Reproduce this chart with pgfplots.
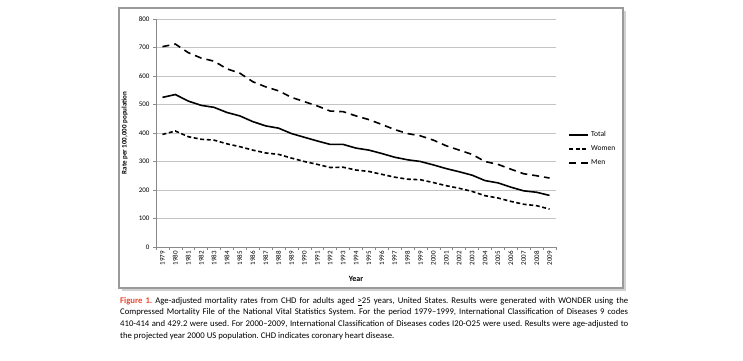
\documentclass[border=0pt]{standalone}
\usepackage{pgfplots}
\pgfplotsset{compat=1.18}
\usepackage{fontspec}
\setmainfont{Carlito}
\definecolor{gridgray}{HTML}{C4C4C4}
\definecolor{axgray}{HTML}{8A8A8A}
\definecolor{framegray}{HTML}{9A9A9A}
\definecolor{figred}{HTML}{E8462F}
\pgfplotstableread{
x total women men
0 525 395 703
1 535 407 712
2 512 387 682
3 497 378 663
4 490 375 652
5 472 362 625
6 460 352 610
7 440 340 580
8 425 330 562
9 417 325 548
10 398 312 525
11 385 300 510
12 372 290 495
13 360 279 477
14 360 280 475
15 347 270 460
16 340 265 447
17 328 255 430
18 315 245 412
19 306 238 398
20 300 236 390
21 288 226 375
22 275 215 355
23 264 206 340
24 252 195 325
25 233 180 300
26 225 172 290
27 210 160 273
28 197 150 257
29 192 145 250
30 181 133 242
}\datatable
\begin{document}
\frenchspacing
\begin{tikzpicture}[x=1pt,y=1pt]
\path[use as bounding box] (0,0) rectangle (743,360);
% frame with shadow
\fill[black!18] (121.5,69.5) rectangle (625.5,349.5);
\filldraw[draw=framegray, line width=1.2pt, fill=white] (119,72) rectangle (623,352);
\begin{axis}[
  at={(156pt,113pt)}, anchor=south west,
  scale only axis, width=400pt, height=228pt,
  xmin=-0.5, xmax=30.5, ymin=0, ymax=800,
  axis lines*=left,
  axis line style={draw=axgray, line width=0.8pt},
  xtick={0,...,30},
  xticklabels={1979,1980,1981,1982,1983,1984,1985,1986,1987,1988,1989,1990,1991,1992,1993,1994,1995,1996,1997,1998,1999,2000,2001,2002,2003,2004,2005,2006,2007,2008,2009},
  x tick label style={rotate=90, anchor=east, font=\fontsize{7}{7}\selectfont, inner sep=1pt},
  major x tick style={draw=none},
  minor xtick={-0.5,0.5,...,30.5},
  minor x tick style={draw=axgray, line width=0.6pt},
  minor tick length=3pt,
  ytick={0,100,...,800},
  y tick label style={font=\fontsize{7}{7}\selectfont},
  y tick style={draw=axgray, line width=0.6pt},
  major tick length=3pt,
  tick align=outside,
  ymajorgrids,
  grid style={draw=gridgray, line width=0.7pt},
  /pgf/number format/assume math mode=true,
  ylabel={\textbf{Rate per 100,000 population}},
  ylabel style={font=\fontsize{7}{7}\selectfont, at={(axis description cs:-0.062,0.5)}},
  xlabel={\textbf{Year}},
  xlabel style={font=\fontsize{8}{8}\selectfont, at={(axis description cs:0.5,-0.115)}, anchor=north},
  legend style={at={(1.03,0.515)}, anchor=north west, draw=none, fill=none,
    font=\fontsize{7.5}{8}\selectfont, row sep=3.5pt, inner sep=0pt,
    /tikz/every even column/.append style={column sep=0pt}},
  legend cell align=left,
  legend image code/.code={\draw[#1, line width=2pt] (0pt,0pt) -- (19pt,0pt);},
  clip=false,
]
\addplot[black, line width=1.6pt, solid] table[x=x, y=total] {\datatable};
\addlegendentry{Total}
\addplot[black, line width=1.6pt, dash pattern=on 4pt off 2.6pt] table[x=x, y=women] {\datatable};
\addlegendentry{Women}
\addplot[black, line width=1.6pt, dash pattern=on 7pt off 5pt] table[x=x, y=men] {\datatable};
\addlegendentry{Men}
\end{axis}
\node[anchor=north west, inner sep=0pt, text width=508pt, align=justify,
  font=\fontsize{8.7}{11.6}\selectfont] at (120,63) {%
{\color{figred}\bfseries Figure 1.} Age-adjusted mortality rates from CHD for adults aged \underline{>}25 years, United States. Results were generated with WONDER using the\linebreak
Compressed Mortality File of the National Vital Statistics System. For the period 1979--1999, International Classification of Diseases 9 codes\linebreak
410-414 and 429.2 were used. For 2000--2009, International Classification of Diseases codes I20-O25 were used. Results were age-adjusted to\linebreak
the projected year 2000 US population. CHD indicates coronary heart disease.};
\end{tikzpicture}
\end{document}
